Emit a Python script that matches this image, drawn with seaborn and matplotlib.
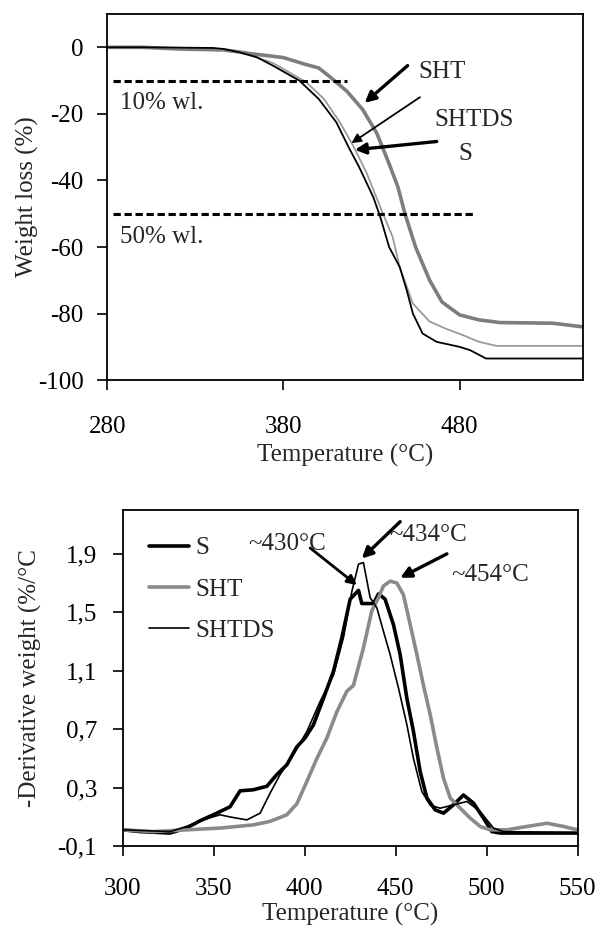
import matplotlib
matplotlib.use("Agg")
import matplotlib.pyplot as plt
import seaborn as sns

# ---------------- data: TGA (top) ----------------
tga_S_T = [280, 300, 340, 346, 355, 365, 374, 389, 400, 410, 417, 423, 431, 435, 440, 446, 450, 453.5, 459, 467, 480, 486, 495, 550]
tga_S_W = [0, 0, -0.2, -0.5, -1.5, -3, -5.5, -10, -15.5, -22.5, -30, -36, -45, -51, -60, -66, -73, -80, -86, -88.5, -90, -91, -93.5, -93.5]

tga_SHTDS_T = [280, 300, 340, 355, 374, 393, 403, 412, 419.5, 427, 434.6, 442, 446, 453.5, 463, 472, 482, 491, 501, 550]
tga_SHTDS_W = [0, 0, -0.3, -1.3, -4.7, -10.5, -15.5, -22.5, -29.5, -37.5, -47.5, -57, -66, -77, -82.4, -84.5, -86.5, -88.5, -89.7, -89.7]

tga_SHT_T = [280, 300, 320, 346, 355, 361, 374, 380, 393, 400, 406, 416, 425, 433, 440, 445, 449, 455, 463, 470, 480, 491, 503, 533, 550]
tga_SHT_W = [0, 0, -0.5, -0.8, -1.4, -1.9, -2.7, -3.1, -5.2, -6.2, -8.7, -13.2, -18.7, -25.8, -35, -42, -50, -60, -70, -76.5, -80.4, -81.9, -82.7, -82.9, -84]

wl10_T = [283, 416]
wl10_W = [-10, -10]
wl50_T = [283, 489]
wl50_W = [-50, -50]

top_xticks = [280, 380, 480]
top_yticks = [0, -20, -40, -60, -80, -100]

# ---------------- data: DTG (bottom) ----------------
dtg_S_T = [300, 309.5, 326, 335, 342.5, 351.7, 359, 364.5, 371.8, 379.2, 384.7, 390.2, 395.7, 400.2, 404.8, 410.3, 415.8, 420.4, 425, 429.6, 431.4, 437.8, 440.6, 444.2, 448.8, 452.5, 456.2, 459.8, 463.5, 467.2, 471.7, 476.3, 481.8, 487.3, 492.8, 498.3, 502.9, 507.5, 550]
dtg_S_D = [0.012, 0.0, -0.01, 0.024, 0.074, 0.126, 0.17, 0.279, 0.286, 0.31, 0.39, 0.457, 0.58, 0.64, 0.73, 0.91, 1.096, 1.325, 1.59, 1.65, 1.56, 1.56, 1.626, 1.59, 1.416, 1.21, 0.91, 0.685, 0.41, 0.23, 0.149, 0.126, 0.183, 0.25, 0.195, 0.092, 0.0, -0.01, -0.01]

dtg_SHTDS_T = [300, 326, 335, 344.3, 353.5, 359, 368.2, 375.5, 381, 386.5, 393.8, 401.2, 408.5, 415.8, 421.3, 425.9, 429.6, 432.3, 436, 439.7, 443.3, 447, 451.6, 456.2, 459.8, 464.4, 469, 474.5, 481.8, 489.2, 496.5, 503.8, 509.3, 550]
dtg_SHTDS_D = [0.012, 0.0, 0.035, 0.08, 0.115, 0.1, 0.08, 0.126, 0.263, 0.39, 0.525, 0.685, 0.89, 1.07, 1.325, 1.64, 1.83, 1.84, 1.6, 1.53, 1.37, 1.21, 0.98, 0.73, 0.5, 0.275, 0.18, 0.16, 0.183, 0.206, 0.137, 0.024, 0.0, -0.01]

dtg_SHT_T = [300, 316.8, 335.2, 353.5, 371.8, 381, 390.2, 395.7, 401.2, 406.7, 412.2, 417.7, 423.2, 426.8, 432.3, 436.9, 440.6, 443.3, 447, 450.7, 454.3, 458, 461.7, 465.3, 469, 472.7, 476.3, 480, 485.5, 491, 496.5, 502, 511.2, 522.2, 533.2, 542.3, 550]
dtg_SHT_D = [0.012, 0.0, 0.012, 0.024, 0.046, 0.07, 0.115, 0.19, 0.343, 0.5, 0.64, 0.82, 0.96, 1.0, 1.256, 1.51, 1.6, 1.68, 1.713, 1.70, 1.62, 1.416, 1.21, 1.0, 0.8, 0.571, 0.366, 0.23, 0.16, 0.092, 0.035, 0.012, 0.012, 0.035, 0.057, 0.035, 0.012]

bot_xticks = [300, 350, 400, 450, 500, 550]
bot_yticks = [-0.1, 0.3, 0.7, 1.1, 1.5, 1.9]
bot_yticklabels = ["-0,1", "0,3", "0,7", "1,1", "1,5", "1,9"]

# ---------------- style ----------------
sns.set_style("white")
plt.rcParams['font.family'] = ['Liberation Serif', 'DejaVu Serif']
plt.rcParams['axes.unicode_minus'] = False
FS = 18

fig = plt.figure(figsize=(5.96, 9.34), dpi=100)
ax1 = fig.add_axes([0.180, 0.593, 0.798, 0.392])
ax2 = fig.add_axes([0.206, 0.094, 0.763, 0.360])

for ax in (ax1, ax2):
    for s in ax.spines.values():
        s.set_color('black')
        s.set_linewidth(1.3)
    ax.tick_params(direction='out', length=7, width=1.2, colors='black',
                   labelsize=FS, left=True, bottom=True)
    ax.grid(False)
ax1.tick_params(axis='x', pad=19)
ax2.tick_params(axis='x', pad=16)
ax1.tick_params(axis='y', pad=10)
ax2.tick_params(axis='y', pad=11.5)

GRAY = '#7d7d7d'
LGRAY = '#9a9a9a'
DASH = (0, (2.4, 1.2))

# ---------------- top ----------------
sns.lineplot(x=tga_SHT_T, y=tga_SHT_W, ax=ax1, color=GRAY, lw=2.6, estimator=None, sort=False)
sns.lineplot(x=tga_SHTDS_T, y=tga_SHTDS_W, ax=ax1, color=LGRAY, lw=1.3, estimator=None, sort=False)
sns.lineplot(x=tga_S_T, y=tga_S_W, ax=ax1, color='black', lw=1.3, estimator=None, sort=False)
sns.lineplot(x=wl10_T, y=wl10_W, ax=ax1, color='black', lw=2.2, estimator=None, linestyle=DASH)
sns.lineplot(x=wl50_T, y=wl50_W, ax=ax1, color='black', lw=2.2, estimator=None, linestyle=DASH)

ax1.set_xlim(280, 550)
ax1.set_ylim(-100, 10)
ax1.set_xticks(top_xticks)
ax1.set_yticks(top_yticks)
ax1.set_xlabel("Temperature (°C)", fontsize=FS, labelpad=4)
ax1.set_ylabel("Weight loss (%)", fontsize=FS, labelpad=-1)

ax1.text(287.5, -16.7, "10% wl.", fontsize=FS, ha='left', va='center')
ax1.text(287, -57, "50% wl.", fontsize=FS, ha='left', va='center')
ax1.text(470, -7.5, "SHT", fontsize=FS, ha='center', va='center')
ax1.text(488, -21.8, "SHTDS", fontsize=FS, ha='center', va='center')
ax1.text(483, -32, "S", fontsize=FS, ha='center', va='center')

ax1.annotate("", xy=(426.1, -16.7), xytext=(450.5, -5.5),
             arrowprops=dict(arrowstyle='-|>', color='black', lw=2.4, mutation_scale=16, shrinkA=0, shrinkB=0))
ax1.annotate("", xy=(418.6, -28.8), xytext=(457.5, -15.0),
             arrowprops=dict(arrowstyle='-|>', color='black', lw=1.3, mutation_scale=14, shrinkA=0, shrinkB=0))
ax1.annotate("", xy=(420.5, -30.8), xytext=(467, -28.3),
             arrowprops=dict(arrowstyle='-|>', color='black', lw=2.4, mutation_scale=16, shrinkA=0, shrinkB=0))

# ---------------- bottom ----------------
sns.lineplot(x=dtg_S_T, y=dtg_S_D, ax=ax2, color='black', lw=2.6, estimator=None, sort=False, label='S')
sns.lineplot(x=dtg_SHT_T, y=dtg_SHT_D, ax=ax2, color='#8a8a8a', lw=2.6, estimator=None, sort=False, label='SHT')
sns.lineplot(x=dtg_SHTDS_T, y=dtg_SHTDS_D, ax=ax2, color='black', lw=1.2, estimator=None, sort=False, label='SHTDS')

ax2.set_xlim(300, 550)
ax2.set_ylim(-0.1, 2.2)
ax2.set_xticks(bot_xticks)
ax2.set_yticks(bot_yticks)
ax2.set_yticklabels(bot_yticklabels)
ax2.set_xlabel("Temperature (°C)", fontsize=FS, labelpad=2)
ax2.set_ylabel("-Derivative weight (%/°C", fontsize=FS, labelpad=11)

ax2.legend(loc='upper left', bbox_to_anchor=(0.035, 0.95), frameon=False, fontsize=FS,
           handlelength=1.6, handletextpad=0.25, labelspacing=0.75, borderaxespad=0)

ax2.text(390.6, 1.964, "~430°C", fontsize=FS, ha='center', va='center')
ax2.text(468.1, 2.032, "~434°C", fontsize=FS, ha='center', va='center')
ax2.text(502, 1.758, "~454°C", fontsize=FS, ha='center', va='center')

ax2.annotate("", xy=(428.7, 1.686), xytext=(403, 1.94),
             arrowprops=dict(arrowstyle='-|>', color='black', lw=2.0, mutation_scale=14, shrinkA=0, shrinkB=0))
ax2.annotate("", xy=(431.4, 1.868), xytext=(452.5, 2.12),
             arrowprops=dict(arrowstyle='-|>', color='black', lw=2.4, mutation_scale=16, shrinkA=0, shrinkB=0))
ax2.annotate("", xy=(452.5, 1.736), xytext=(478.2, 1.9),
             arrowprops=dict(arrowstyle='-|>', color='black', lw=2.4, mutation_scale=16, shrinkA=0, shrinkB=0))

fig.savefig("out.png", dpi=100)
